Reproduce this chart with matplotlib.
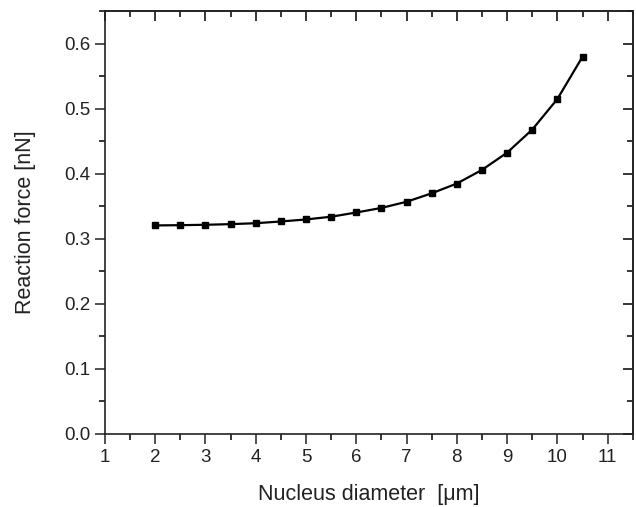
import matplotlib
matplotlib.use("Agg")
import matplotlib.pyplot as plt
from matplotlib.ticker import MultipleLocator

plt.rcParams['font.family'] = ['Liberation Sans', 'DejaVu Sans']

diameter = [2.0, 2.5, 3.0, 3.5, 4.0, 4.5, 5.0, 5.5, 6.0, 6.5, 7.0, 7.5, 8.0, 8.5, 9.0, 9.5, 10.0, 10.5]
force = [0.3206, 0.321, 0.3216, 0.3226, 0.324, 0.3267, 0.3298, 0.334, 0.3405, 0.3475,
         0.357, 0.370, 0.385, 0.406, 0.4325, 0.468, 0.515, 0.580]

fig = plt.figure(figsize=(6.36, 5.07), dpi=100)
ax = fig.add_axes([0.165, 0.144, 0.830, 0.834])
ax.plot(diameter, force, color='black', lw=1.6, marker='s', ms=4.5, mec='black', mfc='black')
ax.set_xlim(1, 11.5)
ax.set_ylim(0, 0.65)
ax.xaxis.set_major_locator(MultipleLocator(1))
ax.xaxis.set_minor_locator(MultipleLocator(0.5))
ax.yaxis.set_major_locator(MultipleLocator(0.1))
ax.yaxis.set_minor_locator(MultipleLocator(0.05))
ax.set_yticks([0, 0.1, 0.2, 0.3, 0.4, 0.5, 0.6])
ax.set_yticklabels(['0.0', '0.1', '0.2', '0.3', '0.4', '0.5', '0.6'])
ax.tick_params(which='major', direction='out', length=7, width=1.1, labelsize=13.5, colors='#222222')
ax.tick_params(which='minor', direction='out', length=4, width=1.1)
for s in ax.spines.values():
    s.set_linewidth(1.2)
    s.set_color('#222222')

top = ax.secondary_xaxis('top')
top.xaxis.set_major_locator(MultipleLocator(1))
top.xaxis.set_minor_locator(MultipleLocator(0.5))
top.tick_params(which='major', direction='in', length=7, width=1.1, labeltop=False)
top.tick_params(which='minor', direction='in', length=4, width=1.1)
right = ax.secondary_yaxis('right')
right.yaxis.set_major_locator(MultipleLocator(0.1))
right.yaxis.set_minor_locator(MultipleLocator(0.05))
right.tick_params(which='major', direction='in', length=7, width=1.1, labelright=False)
right.tick_params(which='minor', direction='in', length=4, width=1.1)
for sa in (top, right):
    for s in sa.spines.values():
        s.set_linewidth(1.2)
        s.set_color('#222222')

ax.set_xlabel('Nucleus diameter  [\u03bcm]', fontsize=15.5, labelpad=13, color='#222222')
ax.set_ylabel('Reaction force [nN]', fontsize=15.5, labelpad=20, color='#222222')

fig.savefig('out.png', dpi=100)
